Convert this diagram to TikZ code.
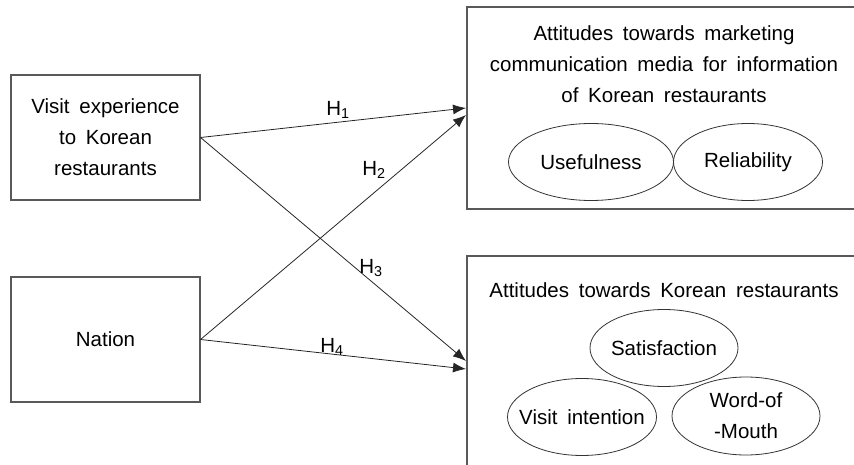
\documentclass[tikz,border=0pt]{standalone}
\usepackage{fontspec}
\setmainfont{Liberation Sans}[WordSpace=1.7]
\usetikzlibrary{shapes.geometric,arrows.meta}
\begin{document}
\begin{tikzpicture}[x=1pt,y=-1pt,
  every node/.style={font=\fontsize{20.5}{31}\selectfont, align=center, text=black},
  leftbox/.style={draw=black!65, line width=1.1pt, minimum width=189pt, minimum height=125pt, inner sep=0pt},
  frame/.style={draw=black!65, line width=1.1pt},
  oval/.style={draw=black!80, line width=0.8pt, ellipse, inner sep=0pt, minimum height=77pt},
  link/.style={draw=black!85, line width=0.8pt, -{Latex[length=13pt,width=10pt]}},
  hlab/.style={inner sep=1pt}
]
\useasboundingbox (0,0) rectangle (854,465);
% left boxes
\node[leftbox] (visit) at (105.5,137.5) {Visit experience\\to Korean\\restaurants};
\node[leftbox] (nation) at (105.5,339.5) {Nation};
% right frames (open at right edge)
\draw[frame] (854,7) -- (467,7) -- (467,209) -- (854,209);
\draw[frame] (854,256) -- (467,256) -- (467,465);
\node (title1) at (664,64) {Attitudes towards marketing\\communication media for information\\of Korean restaurants};
\node[oval, minimum width=165pt] (useful) at (591,162) {};
\node at (useful) {Usefulness};
\node[oval, minimum width=149pt] (reliab) at (748,162) {};
\node at (reliab) {Reliability};
\node (title2) at (664,290) {Attitudes towards Korean restaurants};
\node[oval, minimum width=148pt] (satis) at (664,348) {};
\node at (satis) {Satisfaction};
\node[oval, minimum width=149pt] (vint) at (582,417) {};
\node at (vint) {Visit intention};
\node[oval, minimum width=148pt, minimum height=78pt] (wom) at (746,416) {};
\node at (wom) {Word-of\\-Mouth};
% arrow targets
\coordinate (e1) at (466,108);
\coordinate (e2) at (466,115);
\coordinate (e3) at (466,361);
\coordinate (e4) at (466,369);
\draw[link] (visit.east) -- (e1);
\draw[link] (nation.east) -- (e2);
\draw[link] (visit.east) -- (e3);
\draw[link] (nation.east) -- (e4);
\node[hlab] (h1) at (338,110) {H\textsubscript{1}};
\node[hlab] (h2) at (374,170) {H\textsubscript{2}};
\node[hlab] (h3) at (371,268) {H\textsubscript{3}};
\node[hlab] (h4) at (332,347) {H\textsubscript{4}};
\end{tikzpicture}
\end{document}
